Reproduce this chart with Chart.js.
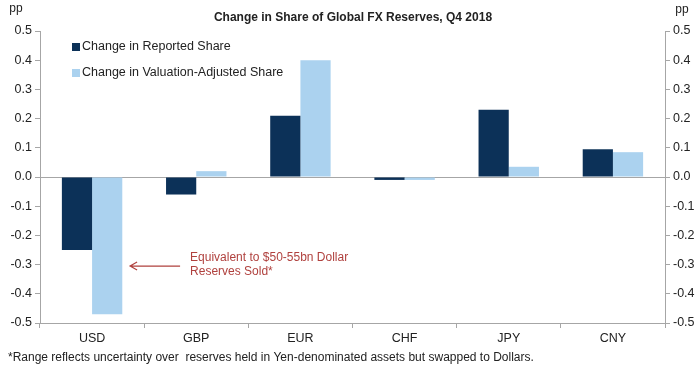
<!DOCTYPE html>
<html lang="en">
  <head>
    <meta charset="UTF-8" />
    <title>Change in Share of Global FX Reserves, Q4 2018</title>
    <script src="https://cdn.jsdelivr.net/npm/chart.js"></script>
    <style>
      body { margin: 0; background: #fff; }
      #wrap { width: 700px; height: 372px; }
    </style>
  </head>
  <body>
    <div id="wrap"><canvas id="fxChart" width="700" height="372"></canvas></div>
    <script>
      const currencies = ["USD", "GBP", "EUR", "CHF", "JPY", "CNY"];
      const reportedShare = [-0.25, -0.06, 0.21, -0.01, 0.23, 0.095];
      const adjustedShare = [-0.47, 0.02, 0.40, -0.01, 0.035, 0.085];
      const seriesNames = ["Change in Reported Share", "Change in Valuation-Adjusted Share"];
      const yTicks = [0.5, 0.4, 0.3, 0.2, 0.1, 0.0, -0.1, -0.2, -0.3, -0.4, -0.5];

      const axisGrey = '#a6a6a6';
      const fam = 'Arial, "Liberation Sans", sans-serif';
      const font = { family: fam, size: 12.5 };

      const extras = {
        id: 'extras',
        afterDraw(chart) {
          const c = chart.ctx;
          const x = chart.scales.x, y = chart.scales.y;
          c.save();
          // title and units
          c.fillStyle = '#222';
          c.font = 'bold 12px ' + fam;
          c.textAlign = 'center';
          c.textBaseline = 'middle';
          c.fillText('Change in Share of Global FX Reserves, Q4 2018', 353, 18);
          c.font = '12px ' + fam;
          c.fillText('pp', 16, 9);
          c.fillText('pp', 682, 10);

          // legend
          c.textAlign = 'left';
          c.font = '12.5px ' + fam;
          chart.data.datasets.forEach((ds, i) => {
            const ly = 47 + i * 26;
            c.fillStyle = ds.backgroundColor;
            c.fillRect(72, ly - 4, 8, 8);
            c.fillStyle = '#222';
            c.fillText(ds.label, 82, ly);
          });

          // annotation
          c.font = '12px ' + fam;
          const ay = y.getPixelForValue(-0.305);
          const ax = x.getPixelForValue(0) + 38;
          c.strokeStyle = '#b0413e';
          c.lineWidth = 1.2;
          c.beginPath();
          c.moveTo(ax + 50, ay);
          c.lineTo(ax, ay);
          c.moveTo(ax + 7, ay - 4);
          c.lineTo(ax, ay);
          c.lineTo(ax + 7, ay + 4);
          c.stroke();
          c.fillStyle = '#b0413e';
          c.fillText('Equivalent to $50-55bn Dollar', ax + 60, ay - 8);
          c.fillText('Reserves Sold*', ax + 60, ay + 6);

          // footnote
          c.fillStyle = '#222';
          c.fillText('*Range reflects uncertainty over  reserves held in Yen-denominated assets but swapped to Dollars.', 8, 358);
          c.restore();
        }
      };

      new Chart(document.getElementById('fxChart'), {
        type: 'bar',
        data: {
          labels: currencies,
          datasets: [
            { label: seriesNames[0], data: reportedShare, backgroundColor: '#0c3158', yAxisID: 'y' },
            { label: seriesNames[1], data: adjustedShare, backgroundColor: '#abd2ef', yAxisID: 'y' }
          ]
        },
        options: {
          responsive: false,
          animation: false,
          categoryPercentage: 0.58,
          barPercentage: 1.0,
          layout: { padding: { top: 31, left: 0, right: 0, bottom: 0 } },
          plugins: { legend: { display: false }, tooltip: { enabled: false } },
          scales: {
            x: {
              grid: { drawOnChartArea: false, tickLength: 5, tickColor: axisGrey, offset: true },
              border: { color: axisGrey },
              ticks: { font, color: '#222', padding: 3 },
              afterFit(s) { s.height = 49; }
            },
            y: {
              position: 'left',
              min: -0.5, max: 0.5,
              afterBuildTicks(s) { s.ticks = yTicks.map(v => ({ value: v })); },
              grid: {
                color: ctx => (ctx.tick && ctx.tick.value === 0 ? axisGrey : 'rgba(0,0,0,0)'),
                tickColor: axisGrey, tickLength: 5
              },
              border: { color: axisGrey },
              ticks: { font, color: '#222', padding: 3, callback: v => v.toFixed(1) },
              afterFit(s) { s.width = 40; }
            },
            y2: {
              position: 'right',
              min: -0.5, max: 0.5,
              afterBuildTicks(s) { s.ticks = yTicks.map(v => ({ value: v })); },
              grid: { drawOnChartArea: false, tickColor: axisGrey, tickLength: 5 },
              border: { color: axisGrey },
              ticks: { font, color: '#222', padding: 3, callback: v => v.toFixed(1) },
              afterFit(s) { s.width = 35; }
            }
          }
        },
        plugins: [extras]
      });
    </script>
  </body>
</html>
